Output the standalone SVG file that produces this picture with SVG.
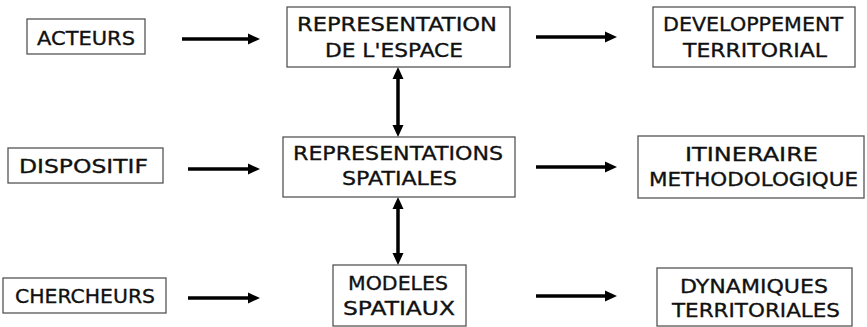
<svg xmlns="http://www.w3.org/2000/svg" width="867" height="327" viewBox="0 0 867 327">
<style>
.box{fill:#fff;stroke:#555;stroke-width:1.3}
.t{font-family:"DejaVu Sans","Liberation Sans",sans-serif;font-size:20px;fill:#111;stroke:#111;stroke-width:0.35}
.c{fill:none;stroke:#000;stroke-width:3.5}
</style>
<defs>
<marker id="ah" markerUnits="userSpaceOnUse" markerWidth="12" markerHeight="12" viewBox="0 0 12 12" refX="4" refY="6" orient="auto-start-reverse">
<path d="M0,0.5 L12,6 L0,11.5 Z" fill="#000"/>
</marker>
</defs>
<rect width="867" height="327" fill="#fff"/>
<g id="connectors">
<path class="c" d="M182,39 H252" marker-end="url(#ah)"/>
<path class="c" d="M188,169 H252" marker-end="url(#ah)"/>
<path class="c" d="M188,298 H252" marker-end="url(#ah)"/>
<path class="c" d="M536,37 H609" marker-end="url(#ah)"/>
<path class="c" d="M536,167 H609" marker-end="url(#ah)"/>
<path class="c" d="M536,296 H609" marker-end="url(#ah)"/>
<path class="c" d="M398,75 V129" marker-start="url(#ah)" marker-end="url(#ah)"/>
<path class="c" d="M398,205 V257" marker-start="url(#ah)" marker-end="url(#ah)"/>
</g>
<g id="acteurs">
<rect class="box" x="27" y="19" width="118" height="35"/>
<text class="t" x="37" y="45" textLength="98" lengthAdjust="spacingAndGlyphs">ACTEURS</text>
</g>
<g id="representation-espace">
<rect class="box" x="287" y="7" width="223" height="60"/>
<text class="t" x="297" y="31" textLength="200" lengthAdjust="spacingAndGlyphs">REPRESENTATION</text>
<text class="t" x="325" y="57" textLength="138" lengthAdjust="spacingAndGlyphs">DE L'ESPACE</text>
</g>
<g id="developpement">
<rect class="box" x="653" y="7" width="202" height="60"/>
<text class="t" x="663" y="31" textLength="180" lengthAdjust="spacingAndGlyphs">DEVELOPPEMENT</text>
<text class="t" x="683" y="57" textLength="144" lengthAdjust="spacingAndGlyphs">TERRITORIAL</text>
</g>
<g id="dispositif">
<rect class="box" x="8" y="148" width="155" height="35"/>
<text class="t" x="19" y="173" textLength="129" lengthAdjust="spacingAndGlyphs">DISPOSITIF</text>
</g>
<g id="representations-spatiales">
<rect class="box" x="283" y="137" width="232" height="60"/>
<text class="t" x="293" y="160" textLength="210" lengthAdjust="spacingAndGlyphs">REPRESENTATIONS</text>
<text class="t" x="342" y="185" textLength="115" lengthAdjust="spacingAndGlyphs">SPATIALES</text>
</g>
<g id="itineraire">
<rect class="box" x="638" y="136" width="226" height="62"/>
<text class="t" x="685" y="161" textLength="133" lengthAdjust="spacingAndGlyphs">ITINERAIRE</text>
<text class="t" x="649" y="186" textLength="209" lengthAdjust="spacingAndGlyphs">METHODOLOGIQUE</text>
</g>
<g id="chercheurs">
<rect class="box" x="3" y="278" width="163" height="35"/>
<text class="t" x="15" y="303" textLength="140" lengthAdjust="spacingAndGlyphs">CHERCHEURS</text>
</g>
<g id="modeles">
<rect class="box" x="333" y="265" width="133" height="61"/>
<text class="t" x="348" y="290" textLength="100" lengthAdjust="spacingAndGlyphs">MODELES</text>
<text class="t" x="343" y="315" textLength="112" lengthAdjust="spacingAndGlyphs">SPATIAUX</text>
</g>
<g id="dynamiques">
<rect class="box" x="657" y="268" width="195" height="58"/>
<text class="t" x="680" y="293" textLength="148" lengthAdjust="spacingAndGlyphs">DYNAMIQUES</text>
<text class="t" x="672" y="317" textLength="168" lengthAdjust="spacingAndGlyphs">TERRITORIALES</text>
</g>
</svg>
